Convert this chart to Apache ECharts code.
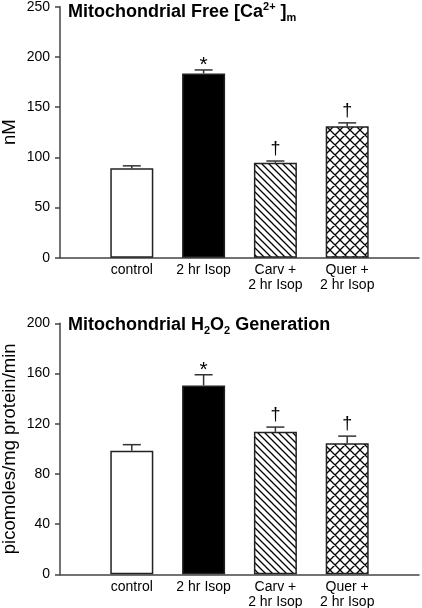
<!DOCTYPE html>
<html>
<head>
<meta charset="utf-8">
<style>
html,body{margin:0;padding:0;background:#fff;}
#chart{width:422px;height:608px;}
</style>
<script src="https://cdn.jsdelivr.net/npm/echarts@6/dist/echarts.min.js"></script>
</head>
<body>
<div id="chart"></div>
<script>
// ---- data ----
const categories = ['control', '2 hr Isop', 'Carv +\n2 hr Isop', 'Quer +\n2 hr Isop'];
const caValues = [89, 183.5, 94.5, 131];
const caErrors = [2.5, 3.5, 1.8, 3.3];
const caMarks = ['', '*', '\u2020', '\u2020'];
const h2o2Values = [98.5, 150.5, 113.5, 104.5];
const h2o2Errors = [4.8, 8.5, 3.8, 5.6];
const h2o2Marks = ['', '*', '\u2020', '\u2020'];
const caTicks = [0, 50, 100, 150, 200, 250];
const h2o2Ticks = [0, 40, 80, 120, 160, 200];

const FONT = 'Liberation Sans, Arial, sans-serif';

function makePattern(period, cross) {
  const c = document.createElement('canvas');
  c.width = period; c.height = period;
  const g = c.getContext('2d');
  g.fillStyle = '#fff'; g.fillRect(0, 0, period, period);
  g.strokeStyle = '#000'; g.lineWidth = 1.3;
  const s = period;
  g.beginPath();
  g.moveTo(-1, -1); g.lineTo(s + 1, s + 1);
  g.moveTo(s - 1, -1); g.lineTo(s + 1, 1);
  g.moveTo(-1, s - 1); g.lineTo(1, s + 1);
  if (cross) {
    g.moveTo(-1, s + 1); g.lineTo(s + 1, -1);
    g.moveTo(-1, 1); g.lineTo(1, -1);
    g.moveTo(s - 1, s + 1); g.lineTo(s + 1, s - 1);
  }
  g.stroke();
  return c;
}
const diagPattern = { image: makePattern(7, false), repeat: 'repeat' };
const crossPattern = { image: makePattern(10, true), repeat: 'repeat' };
const fills = ['#ffffff', '#000000', diagPattern, crossPattern];

const xData = [''].concat(categories, ['']);

function barData(values) {
  return [null].concat(values.map((v, i) => ({
    value: v,
    itemStyle: { color: fills[i] }
  })), [null]);
}
function errData(values, errs, marks) {
  return values.map((v, i) => [i + 1, v, v + errs[i], marks[i]]);
}

function renderErr(params, api) {
  const x = api.value(0);
  const top = api.coord([x, api.value(1)]);
  const cap = api.coord([x, api.value(2)]);
  const mark = api.value(3);
  const children = [
    { type: 'line', shape: { x1: top[0], y1: top[1], x2: cap[0], y2: cap[1] }, style: { stroke: '#333', lineWidth: 1.5 } },
    { type: 'line', shape: { x1: cap[0] - 9, y1: cap[1], x2: cap[0] + 9, y2: cap[1] }, style: { stroke: '#333', lineWidth: 1.5 } }
  ];
  if (mark) {
    const star = mark === '*';
    children.push({
      type: 'text',
      style: {
        text: mark, x: cap[0], y: cap[1] + (star ? 6 : -3),
        align: 'center', verticalAlign: 'bottom',
        font: (star ? '21px ' : '18px ') + FONT, fill: '#000'
      }
    });
  }
  return { type: 'group', children: children };
}

const axisLineStyle = { color: '#444', width: 1.5 };

function yAxis(gridIndex, ticks, name) {
  return {
    type: 'value', gridIndex: gridIndex,
    min: ticks[0], max: ticks[ticks.length - 1], interval: ticks[1] - ticks[0],
    name: name, nameLocation: 'middle', nameGap: 41, nameRotate: 90, nameMoveOverlap: false,
    nameTextStyle: { fontFamily: FONT, fontSize: 18.5, color: '#000' },
    axisLine: { show: true, lineStyle: axisLineStyle },
    axisTick: { show: true, length: 5, lineStyle: axisLineStyle },
    axisLabel: { fontFamily: FONT, fontSize: 14, color: '#000', margin: 10 },
    splitLine: { show: false }
  };
}
function xAxis(gridIndex) {
  return {
    type: 'category', gridIndex: gridIndex, data: xData, boundaryGap: false,
    axisLine: { show: true, lineStyle: axisLineStyle },
    axisTick: { show: false },
    axisLabel: { interval: 0, fontFamily: FONT, fontSize: 14, color: '#000', margin: 5, lineHeight: 15 }
  };
}

const richBase = {
  b: { fontFamily: FONT, fontSize: 18, fontWeight: 'bold', color: '#000', lineHeight: 22 },
  sup: { fontFamily: FONT, fontSize: 11, fontWeight: 'bold', color: '#000', lineHeight: 14, verticalAlign: 'top' },
  sub: { fontFamily: FONT, fontSize: 11, fontWeight: 'bold', color: '#000', lineHeight: 14, verticalAlign: 'bottom' }
};

const chart = echarts.init(document.getElementById('chart'), null, { renderer: 'canvas' });
chart.setOption({
  animation: false,
  backgroundColor: '#fff',
  title: [
    { text: '{b|Mitochondrial Free [Ca}{sup|2+}{b| ]}{sub|m}', left: 68, top: 1, padding: 0,
      textStyle: { rich: richBase } },
    { text: '{b|Mitochondrial H}{sub|2}{b|O}{sub|2}{b| Generation}', left: 68, top: 314, padding: 0,
      textStyle: { rich: richBase } }
  ],
  grid: [
    { left: 60, right: 3, top: 6.7, height: 251, containLabel: false, outerBoundsMode: 'none' },
    { left: 60, right: 3, top: 323.3, height: 251, containLabel: false, outerBoundsMode: 'none' }
  ],
  xAxis: [xAxis(0), xAxis(1)],
  yAxis: [yAxis(0, caTicks, 'nM'), yAxis(1, h2o2Ticks, 'picomoles/mg protein/min')],
  series: [
    { type: 'bar', xAxisIndex: 0, yAxisIndex: 0, barWidth: 43, data: barData(caValues),
      itemStyle: { borderColor: '#222', borderWidth: 1.5 } },
    { type: 'custom', xAxisIndex: 0, yAxisIndex: 0, renderItem: renderErr, data: errData(caValues, caErrors, caMarks), z: 5 },
    { type: 'bar', xAxisIndex: 1, yAxisIndex: 1, barWidth: 43, data: barData(h2o2Values),
      itemStyle: { borderColor: '#222', borderWidth: 1.5 } },
    { type: 'custom', xAxisIndex: 1, yAxisIndex: 1, renderItem: renderErr, data: errData(h2o2Values, h2o2Errors, h2o2Marks), z: 5 }
  ]
});
</script>
</body>
</html>
